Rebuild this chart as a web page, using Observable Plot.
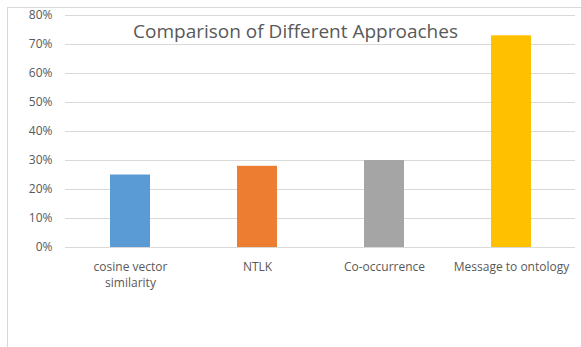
<!DOCTYPE html>
<html>
<head>
<meta charset="utf-8">
<script src="https://cdn.jsdelivr.net/npm/d3@7"></script>
<script src="https://cdn.jsdelivr.net/npm/@observablehq/plot@0.6"></script>
<style>
  html, body { margin: 0; padding: 0; background: #fff; }
  #wrap { position: relative; width: 581px; height: 347px; overflow: hidden; }
  #edge { position: absolute; left: 7px; top: 7px; width: 700px; height: 500px;
          border-left: 1px solid #d9d9d9; border-top: 1px solid #d9d9d9; }
  #chart { position: absolute; left: 0; top: 0; }
</style>
</head>
<body>
<div id="wrap"><div id="edge"></div><div id="chart"></div></div>
<script>
const title = "Comparison of Different Approaches";
const categories = ["cosine vector similarity", "NTLK", "Co-occurrence", "Message to ontology"];
const tickLabels = ["cosine vector\nsimilarity", "NTLK", "Co-occurrence", "Message to ontology"];
const values = [0.25, 0.28, 0.30, 0.73];
const colors = ["#5b9bd5", "#ed7d31", "#a5a5a5", "#ffc000"];
const yTicks = [0, 0.1, 0.2, 0.3, 0.4, 0.5, 0.6, 0.7, 0.8];

const rows = categories.map((c, i) => ({category: c, value: values[i]}));
const labelOf = new Map(categories.map((c, i) => [c, tickLabels[i]]));

const chart = Plot.plot({
  width: 581,
  height: 347,
  marginLeft: 65,
  marginRight: 6,
  marginTop: 15,
  marginBottom: 100,
  style: {fontFamily: "'Open Sans', sans-serif", fontSize: "12px", color: "#595959", background: "transparent"},
  x: {domain: categories, paddingInner: 0.686, paddingOuter: 0.343},
  y: {domain: [0, 0.8]},
  color: {domain: categories, range: colors},
  marks: [
    Plot.gridY(yTicks, {stroke: "#d9d9d9", strokeOpacity: 1, strokeWidth: 1}),
    Plot.barY(rows, {x: "category", y: "value", fill: "category"}),
    Plot.axisY(yTicks, {tickSize: 0, tickPadding: 13, tickFormat: d3.format(".0%"), fill: "#595959", fontSize: 12, label: null}),
    Plot.axisX({tickSize: 0, tickPadding: 12, tickFormat: d => labelOf.get(d), fill: "#595959", fontSize: 12, lineHeight: 1.35, label: null}),
    Plot.text([title], {text: d => d, frameAnchor: "top", dx: -25, dy: 9, fontSize: 19, fill: "#595959"})
  ]
});
document.getElementById("chart").appendChild(chart);
</script>
</body>
</html>
